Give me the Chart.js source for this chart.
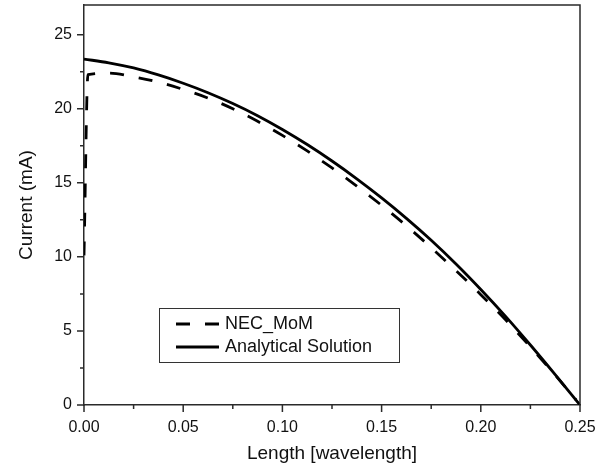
<!DOCTYPE html>
<html>
<head>
<meta charset="utf-8">
<script src="https://cdn.jsdelivr.net/npm/chart.js@4/dist/chart.umd.min.js"></script>
<style>
html,body{margin:0;padding:0;background:#fff;}
#wrap{width:595px;height:470px;}
</style>
</head>
<body>
<div id="wrap"><canvas id="c" width="595" height="470"></canvas></div>
<script>
// ---- data ----
const seriesLabels = ['NEC_MoM', 'Analytical Solution'];
const necX = [0, 0.002, 0.0125, 0.025, 0.0375, 0.05, 0.0625, 0.075, 0.0875, 0.1, 0.1125, 0.125, 0.1375, 0.15, 0.1625, 0.175, 0.1875, 0.2, 0.2125, 0.225, 0.2375, 0.248];
const necY = [10.1, 22.3, 22.4, 22.15, 21.8, 21.3, 20.72, 20.0, 19.15, 18.2, 17.15, 16.0, 14.78, 13.48, 12.1, 10.62, 9.07, 7.45, 5.75, 3.92, 2.02, 0.35];
const analyticalX = [0, 0.0125, 0.025, 0.0375, 0.05, 0.0625, 0.075, 0.0875, 0.1, 0.1125, 0.125, 0.1375, 0.15, 0.1625, 0.175, 0.1875, 0.2, 0.2125, 0.225, 0.2375, 0.25];
const analyticalY = [23.35, 23.1, 22.75, 22.28, 21.72, 21.08, 20.35, 19.53, 18.6, 17.58, 16.47, 15.27, 13.98, 12.6, 11.12, 9.52, 7.8, 5.98, 4.05, 2.05, 0.0];
const xTicks = [0, 0.05, 0.10, 0.15, 0.20, 0.25];
const xMinorTicks = [0.025, 0.075, 0.125, 0.175, 0.225];
const yTicks = [0, 5, 10, 15, 20, 25];
const yMinorTicks = [2.5, 7.5, 12.5, 17.5, 22.5];
const xTitle = 'Length [wavelength]';
const yTitle = 'Current (mA)';

const FONT = "'Liberation Sans', Arial, Helvetica, sans-serif";
const INK = '#111';
const AXIS = '#2a2a2a';

const framePlugin = {
  id: 'framePlugin',
  afterDraw(chart) {
    const ctx = chart.ctx;
    const a = chart.chartArea;
    const xs = chart.scales.x, ys = chart.scales.y;
    ctx.save();
    ctx.strokeStyle = AXIS;
    ctx.lineWidth = 1.5;
    // top and right frame
    ctx.beginPath();
    ctx.moveTo(a.left, a.top); ctx.lineTo(a.right, a.top); ctx.lineTo(a.right, a.bottom);
    ctx.stroke();
    // major and minor ticks (outside)
    ctx.beginPath();
    xTicks.forEach(v => { const p = xs.getPixelForValue(v); ctx.moveTo(p, a.bottom); ctx.lineTo(p, a.bottom + 7); });
    xMinorTicks.forEach(v => { const p = xs.getPixelForValue(v); ctx.moveTo(p, a.bottom); ctx.lineTo(p, a.bottom + 4); });
    yTicks.forEach(v => { const p = ys.getPixelForValue(v); ctx.moveTo(a.left, p); ctx.lineTo(a.left - 7, p); });
    yMinorTicks.forEach(v => { const p = ys.getPixelForValue(v); ctx.moveTo(a.left, p); ctx.lineTo(a.left - 4, p); });
    ctx.stroke();
    // legend box
    const lx = a.left + 75, ly = a.top + 303, lw = 240, lh = 54;
    ctx.fillStyle = '#fff';
    ctx.fillRect(lx, ly, lw, lh);
    ctx.strokeStyle = '#333';
    ctx.lineWidth = 1;
    ctx.strokeRect(lx + 0.5, ly + 0.5, lw, lh);
    ctx.font = '18px ' + FONT;
    ctx.textBaseline = 'middle';
    ctx.textAlign = 'left';
    chart.data.datasets.forEach((ds, i) => {
      const yy = ly + 16 + i * 23;
      ctx.strokeStyle = ds.borderColor;
      ctx.lineWidth = ds.borderWidth;
      ctx.setLineDash(ds.borderDash || []);
      ctx.beginPath();
      ctx.moveTo(lx + 17, yy); ctx.lineTo(lx + 60, yy);
      ctx.stroke();
      ctx.setLineDash([]);
      ctx.fillStyle = INK;
      ctx.fillText(ds.label, lx + 66, yy);
    });
    ctx.restore();
  }
};

new Chart(document.getElementById('c'), {
  type: 'line',
  data: {
    datasets: [
      {
        label: seriesLabels[0],
        data: necX.map((x, i) => ({ x: x, y: necY[i] })),
        borderColor: '#000',
        borderWidth: 2.8,
        borderDash: [14, 15],
        pointRadius: 0,
        fill: false,
        cubicInterpolationMode: 'monotone'
      },
      {
        label: seriesLabels[1],
        data: analyticalX.map((x, i) => ({ x: x, y: analyticalY[i] })),
        borderColor: '#000',
        borderWidth: 2.8,
        pointRadius: 0,
        fill: false,
        cubicInterpolationMode: 'monotone'
      }
    ]
  },
  options: {
    responsive: false,
    animation: false,
    devicePixelRatio: 1,
    layout: { padding: { top: 5, right: 15, left: 0, bottom: 0 } },
    plugins: { legend: { display: false }, tooltip: { enabled: false } },
    scales: {
      x: {
        type: 'linear',
        min: 0, max: 0.25,
        afterBuildTicks: s => { s.ticks = xTicks.map(v => ({ value: v })); },
        afterFit: s => { s.height = 65; s.paddingLeft = 0; s.paddingRight = 0; },
        grid: { display: false, drawTicks: false },
        border: { display: true, color: AXIS, width: 1.5 },
        ticks: {
          autoSkip: false, maxRotation: 0, padding: 13,
          color: INK, font: { family: FONT, size: 16 },
          callback: v => Number(v).toFixed(2)
        },
        title: { display: true, text: xTitle, color: INK, font: { family: FONT, size: 19 }, padding: { top: 0, bottom: 5 } }
      },
      y: {
        type: 'linear',
        min: 0, max: 27,
        afterBuildTicks: s => { s.ticks = yTicks.map(v => ({ value: v })); },
        afterFit: s => { s.width = 84; s.paddingTop = 0; s.paddingBottom = 0; },
        grid: { display: false, drawTicks: false },
        border: { display: true, color: AXIS, width: 1.5 },
        ticks: {
          autoSkip: false, padding: 12,
          color: INK, font: { family: FONT, size: 16 },
          callback: v => String(v)
        },
        title: { display: true, text: yTitle, color: INK, font: { family: FONT, size: 19 }, padding: { top: 15, bottom: 0 } }
      }
    }
  },
  plugins: [framePlugin]
});
</script>
</body>
</html>
